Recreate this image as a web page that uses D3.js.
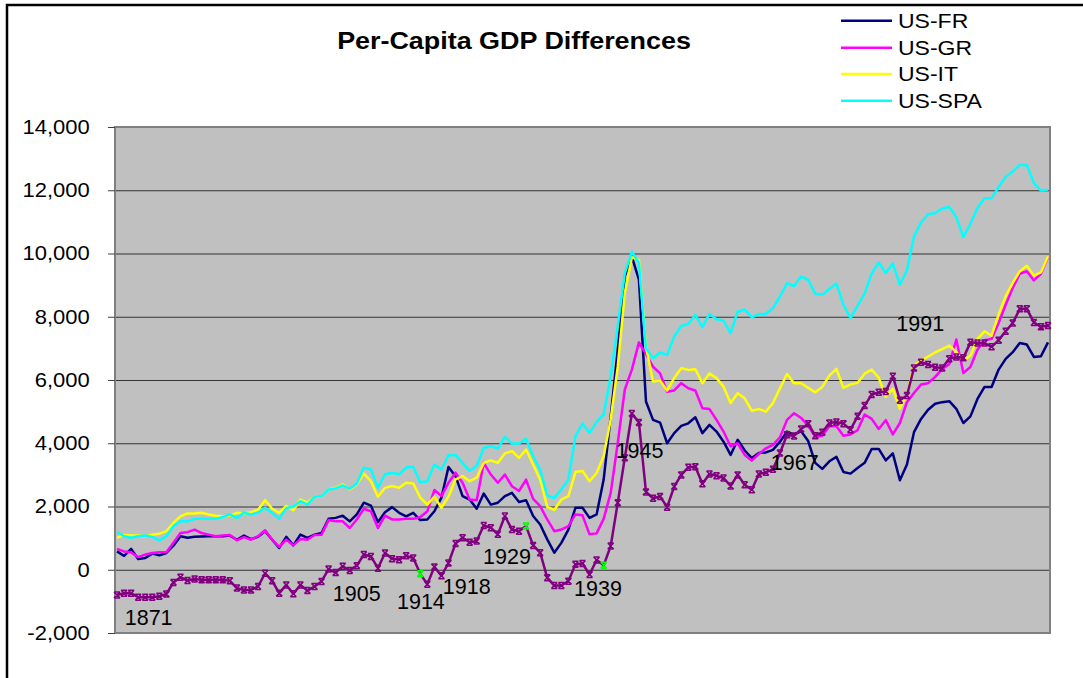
<!DOCTYPE html>
<html>
<head>
<meta charset="utf-8">
<script src="https://cdn.jsdelivr.net/npm/d3@7"></script>
<style>
  body { margin: 0; background: #fff; }
  svg { display: block; font-family: Arial, "Liberation Sans", sans-serif; }
</style>
</head>
<body>
<div id="chart"></div>
<script>
// yearly series 1871-2003
const years = d3.range(1871, 2004);

const usFr = [
  580, 440, 660, 340, 370, 510, 460, 530, 760, 1060,
  1010, 1040, 1050, 1060, 1060, 1060, 1080, 950, 1080, 970,
  1040, 1220, 950, 690, 1040, 770, 1110, 1010, 1110, 1160,
  1610, 1640, 1710, 1530, 1750, 2120, 2030, 1500, 1820, 1980,
  1800, 1690, 1800, 1570, 1590, 1850, 2280, 3250, 2960, 2330,
  2220, 1930, 2410, 2060, 2120, 2330, 2430, 2140, 2200, 1700,
  1430, 960, 540, 850, 1270, 1960, 1960, 1640, 1750, 2850,
  4850, 6960, 9280, 9900, 9170, 5320, 4740, 4650, 4000, 4320,
  4550, 4630, 4820, 4320, 4580, 4370, 4050, 3630, 4110, 3770,
  3530, 3690, 3710, 3790, 4050, 4370, 4270, 4380, 4070, 3380,
  3190, 3430, 3570, 3090, 3040, 3220, 3380, 3820, 3820, 3460,
  3680, 2830, 3330, 4350, 4770, 5060, 5250, 5300, 5330, 5090,
  4640, 4850, 5400, 5780, 5780, 6330, 6670, 6880, 7170, 7120,
  6730, 6750, 7190
];

const usGr = [
  660, 580, 550, 400, 480, 530, 550, 550, 850, 1160,
  1190, 1270, 1160, 1110, 1060, 1080, 1100, 930, 1030, 950,
  1060, 1250, 950, 720, 950, 770, 970, 950, 1100, 1110,
  1570, 1530, 1530, 1320, 1590, 1930, 1850, 1320, 1710, 1590,
  1590, 1610, 1610, 1670, 1850, 2520, 2330, 2750, 3070, 2750,
  2220, 2200, 3380, 3010, 2750, 3010, 2640, 2490, 2850, 2240,
  2010, 1590, 1220, 1270, 1380, 1750, 1720, 1120, 1150, 1610,
  2430, 4010, 5700, 6330, 7190, 6820, 6420, 6210, 5630, 5670,
  5900, 5740, 5670, 5110, 5080, 4740, 4370, 3900, 4000, 3630,
  3450, 3660, 3840, 3950, 4190, 4740, 4950, 4800, 4550, 4200,
  4240, 4540, 4540, 4240, 4280, 4410, 4910, 4770, 4450, 4730,
  4280, 4640, 5300, 5590, 5860, 5900, 6100, 6350, 6500, 7280,
  6220, 6410, 6960, 7260, 7300, 7800, 8380, 8910, 9360, 9440,
  9150, 9360, 9890
];

const usIt = [
  1010, 1100, 1080, 1080, 1060, 1110, 1140, 1220, 1480, 1690,
  1780, 1780, 1800, 1750, 1710, 1690, 1710, 1800, 1780, 1820,
  1900, 2200, 1930, 1800, 2020, 1880, 2220, 2120, 2310, 2330,
  2540, 2590, 2700, 2540, 2700, 3040, 2800, 2310, 2590, 2650,
  2590, 2750, 2730, 2280, 2060, 2310, 1960, 2310, 2860, 2960,
  2800, 2910, 3380, 3460, 3380, 3680, 3750, 3540, 3800, 3330,
  2850, 1990, 1890, 2220, 2330, 3090, 3120, 2800, 3060, 3590,
  4750, 6430, 8750, 9880, 9800, 7060, 5950, 5980, 5670, 6060,
  6370, 6320, 6340, 5900, 6210, 6060, 5790, 5270, 5580, 5420,
  5030, 5080, 5000, 5270, 5740, 6190, 5900, 5900, 5750, 5610,
  5780, 6140, 6350, 5750, 5860, 5910, 6200, 6330, 6070, 5470,
  5720, 5090, 5540, 6460, 6620, 6740, 6870, 6980, 7090, 6880,
  6620, 6770, 7300, 7540, 7400, 8070, 8650, 9070, 9440, 9610,
  9300, 9400, 9910
];

const usSpa = [
  1190, 1060, 1010, 1060, 1080, 1040, 930, 1060, 1380, 1530,
  1530, 1610, 1610, 1610, 1610, 1670, 1750, 1640, 1800, 1750,
  1800, 1960, 1800, 1610, 1950, 1990, 2170, 2060, 2310, 2330,
  2540, 2570, 2670, 2560, 2730, 3230, 3170, 2590, 3020, 3070,
  3020, 3230, 3260, 2770, 2800, 3330, 3170, 3620, 3630, 3380,
  3120, 3280, 3850, 3910, 3830, 4200, 3990, 3990, 4140, 3590,
  3170, 2350, 2270, 2540, 2850, 4220, 4620, 4330, 4670, 4910,
  6120, 7700, 9380, 10060, 9700, 7000, 6690, 6870, 6790, 7370,
  7710, 7770, 8060, 7670, 8090, 7920, 7880, 7480, 8160, 8230,
  7980, 8090, 8090, 8270, 8640, 9060, 8970, 9270, 9170, 8730,
  8700, 8880, 9050, 8380, 7960, 8350, 8730, 9360, 9720, 9380,
  9680, 9010, 9470, 10540, 10980, 11240, 11270, 11420, 11470, 11150,
  10520, 10940, 11440, 11750, 11750, 12100, 12420, 12590, 12800, 12800,
  12230, 11990, 12020
];

// unlabelled purple series with star markers
const usUk = [
  -800, -740, -740, -870, -870, -870, -840, -770, -400, -240,
  -340, -290, -320, -320, -320, -320, -350, -580, -640, -640,
  -530, -110, -350, -740, -480, -760, -480, -660, -530, -370,
  20, -90, 110, -20, 130, 480, 420, 50, 530, 350,
  320, 440, 370, -130, -460, 90, -190, 210, 830, 1010,
  870, 910, 1400, 1330, 1120, 1700, 1270, 1220, 1380, 770,
  540, -250, -500, -500, -360, 170, 200, -150, 310, 140,
  750, 2120, 3540, 4940, 4660, 2460, 2260, 2320, 1980, 2630,
  3000, 3240, 3260, 2720, 3030, 2970, 2900, 2650, 3000, 2690,
  2530, 3030, 3080, 3180, 3690, 4270, 4230, 4450, 4620, 4240,
  4350, 4640, 4670, 4620, 4430, 4850, 5190, 5540, 5610, 5640,
  6120, 5360, 5510, 6380, 6560, 6490, 6400, 6380, 6670, 6730,
  6700, 7190, 7170, 7170, 7050, 7260, 7540, 7800, 8250, 8250,
  7820, 7680, 7720
];

const greenYears = [1914, 1929, 1940];

const seriesNames = ["US-FR", "US-GR", "US-IT", "US-SPA"];
const seriesColors = ["#000080", "#ff00ff", "#ffff00", "#00ffff"];
const seriesValues = [usFr, usGr, usIt, usSpa];

const yTicks = [-2000, 0, 2000, 4000, 6000, 8000, 10000, 12000, 14000];

// year labels written on the plot: text, left edge (year units), baseline (value units)
const noteText = ["1871", "1905", "1914", "1918", "1929", "1939", "1945", "1967", "1991"];
const noteYear = [1872.1, 1901.6, 1910.7, 1917.2, 1922.9, 1935.8, 1941.7, 1963.7, 1981.5];
const noteValue = [-1750, -990, -1240, -770, 180, -830, 3530, 3150, 7550];

const width = 1083, height = 678;
const plot = { left: 115, right: 1050, top: 127, bottom: 633 };

const svg = d3.select("#chart")
  .append("svg")
  .attr("width", width)
  .attr("height", height);

// chart frame (right/bottom edges fall outside the window)
svg.append("rect")
  .attr("x", 7).attr("y", 5)
  .attr("width", 1200).attr("height", 800)
  .attr("fill", "#fff")
  .attr("stroke", "#000")
  .attr("stroke-width", 2.5);

let x = d3.scaleLinear()
  .domain([1871, 2003])
  .range([117, 1048]);

let y = d3.scaleLinear()
  .domain([-2000, 14000])
  .range([plot.bottom, plot.top]);

svg.append("rect")
  .attr("x", plot.left).attr("y", plot.top)
  .attr("width", plot.right - plot.left)
  .attr("height", plot.bottom - plot.top)
  .attr("fill", "#c0c0c0");

// gridlines
svg.append("g")
  .attr("transform", `translate(${plot.left},0)`)
  .call(d3.axisLeft(y).tickValues(yTicks).tickFormat("")
    .tickSize(-(plot.right - plot.left)).tickSizeOuter(0))
  .call(g => g.select(".domain").remove())
  .call(g => g.selectAll("line").attr("stroke", "#333").attr("stroke-width", 1));

// plot border
svg.append("rect")
  .attr("x", plot.left).attr("y", plot.top)
  .attr("width", plot.right - plot.left)
  .attr("height", plot.bottom - plot.top)
  .attr("fill", "none")
  .attr("stroke", "#808080")
  .attr("stroke-width", 2);

// value axis ticks and labels (plain hyphen for negatives, like the original)
const fmt = d => d3.format(",")(d).replace("\u2212", "-");

svg.append("g")
  .attr("transform", `translate(${plot.left},0)`)
  .call(d3.axisLeft(y).tickValues(yTicks).tickSize(7).tickSizeOuter(0)
    .tickPadding(16).tickFormat(fmt))
  .call(g => g.select(".domain").remove())
  .call(g => g.selectAll("line").attr("stroke", "#404040"))
  .call(g => g.selectAll("text")
    .attr("font-size", 20)
    .attr("fill", "#000")
    .attr("font-family", "Arial, 'Liberation Sans', sans-serif")
    .attr("transform", "scale(1.1,1)"));

let line = d3.line()
  .x((d, i) => x(years[i]))
  .y(d => y(d));

seriesValues.forEach((vals, k) => {
  svg.append("path")
    .datum(vals)
    .attr("d", line)
    .attr("fill", "none")
    .attr("stroke", seriesColors[k])
    .attr("stroke-width", 2.5)
    .attr("stroke-linejoin", "round");
});

svg.append("path")
  .datum(usUk)
  .attr("d", line)
  .attr("fill", "none")
  .attr("stroke", "#800080")
  .attr("stroke-width", 2.5)
  .attr("stroke-linejoin", "round");

// star marker: an x closed by short bars
const star = "M-3,-3L3,3M-3,3L3,-3M-3,-3L3,-3M-3,3L3,3";

svg.append("g")
  .selectAll("path")
  .data(usUk)
  .join("path")
  .attr("d", star)
  .attr("transform", (d, i) => `translate(${x(years[i])},${y(d)})`)
  .attr("fill", "none")
  .attr("stroke", (d, i) => greenYears.includes(years[i]) ? "#00ff00" : "#800080")
  .attr("stroke-width", 1.5);

// year notes
svg.append("g")
  .selectAll("text")
  .data(noteText)
  .join("text")
  .attr("x", (d, i) => x(noteYear[i]))
  .attr("y", (d, i) => y(noteValue[i]))
  .attr("font-size", 21.5)
  .attr("fill", "#000")
  .text(d => d);

// legend
const legendRows = [20.7, 47.7, 74, 100.7];
const legend = svg.append("g");
seriesNames.forEach((name, k) => {
  legend.append("line")
    .attr("x1", 841).attr("x2", 892)
    .attr("y1", legendRows[k]).attr("y2", legendRows[k])
    .attr("stroke", seriesColors[k])
    .attr("stroke-width", 2.5);
  legend.append("text")
    .attr("transform", `translate(898,${legendRows[k]}) scale(1.15,1)`)
    .attr("dy", "0.36em")
    .attr("font-size", 20)
    .attr("fill", "#000")
    .text(name);
});

svg.append("text")
  .attr("transform", "translate(514,48.5) scale(1.17,1)")
  .attr("text-anchor", "middle")
  .attr("font-size", 23)
  .attr("font-weight", "bold")
  .attr("fill", "#000")
  .text("Per-Capita GDP Differences");
</script>
</body>
</html>
